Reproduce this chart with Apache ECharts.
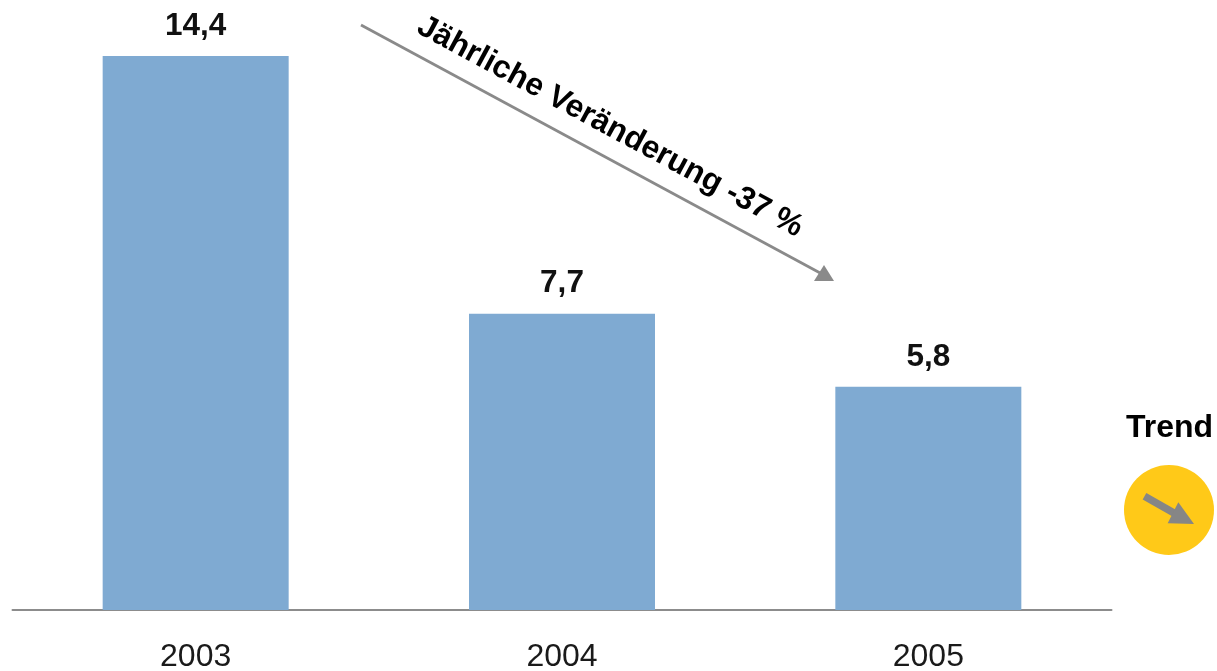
<!DOCTYPE html>
<html><head><meta charset="utf-8">
<style>html,body{margin:0;padding:0;background:#fff}#c{width:1217px;height:671px}</style>
<script src="https://cdn.jsdelivr.net/npm/echarts@6/dist/echarts.min.js"></script></head>
<body><div id="c"></div>
<script>
const years = ['2003','2004','2005'];
const valueLabels = ['14,4','7,7','5,8'];
const values = [14.4,7.7,5.8];
const FONT = '"Liberation Sans", Arial, sans-serif';
const chart = echarts.init(document.getElementById('c'));
chart.setOption({
  animation:false,
  grid:{left:12.5,right:105.5,top:56,bottom:61,containLabel:false,outerBoundsMode:'none'},
  xAxis:{type:'category',data:years,
    axisLine:{lineStyle:{color:'#8c8c8c',width:2}},axisTick:{show:false},
    axisLabel:{color:'#1a1a1a',fontSize:32,fontFamily:FONT,margin:31}},
  yAxis:{type:'value',min:0,max:14.4,show:false,splitLine:{show:false}},
  series:[{type:'bar',data:values,barWidth:186,
    itemStyle:{color:'#7FAAD2'},
    label:{show:true,position:'top',distance:14,fontSize:31.5,fontWeight:'bold',color:'#111',fontFamily:FONT,
      formatter:p=>valueLabels[p.dataIndex]}}],
  graphic:[
    {type:'line',shape:{x1:361,y1:25,x2:822,y2:274},style:{stroke:'#8a8a8a',lineWidth:2.8}},
    {type:'polygon',shape:{points:[[834,281],[814,281],[824,265]]},style:{fill:'#8a8a8a'}},
    {type:'text',x:610,y:127,rotation:-28.3*Math.PI/180,originX:0,originY:0,
      style:{text:'Jährliche Veränderung -37 %',font:'bold 31.7px '+FONT,fill:'#000',align:'center',verticalAlign:'middle'}},
    {type:'text',x:1169.5,y:428,style:{text:'Trend',font:'bold 32px '+FONT,fill:'#000',align:'center',verticalAlign:'middle'}},
    {type:'circle',shape:{cx:1169,cy:510,r:45},style:{fill:'#FFC918'}},
    {type:'line',shape:{x1:1144.5,y1:496.3,x2:1174,y2:513},style:{stroke:'#868686',lineWidth:7.5}},
    {type:'polygon',shape:{points:[[1194,524],[1167.7,523.3],[1178.3,502.3]]},style:{fill:'#868686'}}
  ]
});
</script></body></html>
